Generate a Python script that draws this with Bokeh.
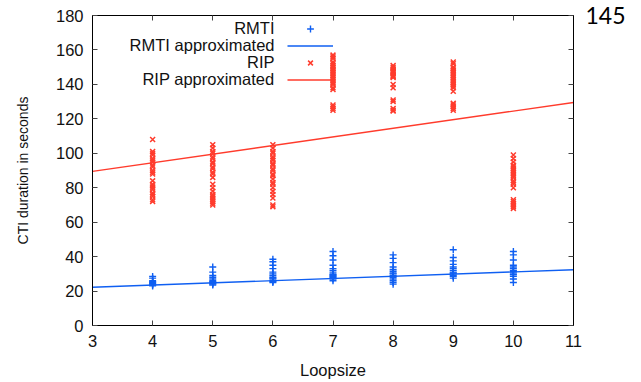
from bokeh.plotting import figure
from bokeh.models import Range1d, LinearAxis, Legend, LegendItem, Label
from bokeh.embed import file_html
from bokeh.resources import INLINE

# ---------------- data ----------------
loopsizes = [4, 5, 6, 7, 8, 9, 10]

rmti_4 = [28.5, 27.5, 26, 25.5, 25, 24.5, 24, 23.5, 23]
rmti_5 = [34, 31, 29, 28, 27, 26, 25.5, 25, 24.5, 24, 23.5]
rmti_6 = [38.5, 37, 35, 33, 31, 30, 29, 28, 27.5, 27, 26, 25.5, 25]
rmti_7 = [43, 40.5, 38, 35, 33, 32, 31, 30, 29.5, 29, 28.5, 28, 27.5, 27, 26]
rmti_8 = [41, 39, 36.5, 34, 32.5, 31.5, 30.5, 30, 29, 28.5, 28, 27, 26, 25, 24]
rmti_9 = [44, 39.5, 37.5, 35.5, 34, 33, 32, 31, 30.5, 30, 29, 28.5, 27.5]
rmti_10 = [43, 41, 38, 35, 34, 33, 32, 31.5, 31, 30, 29.5, 28.5, 27, 25]

rip_4 = [108, 101, 100, 99, 97, 96, 95, 93, 92, 90, 89, 88, 84, 82, 81, 80, 79, 77, 76, 75, 73, 72]
rip_5 = [105, 103, 101, 100, 98, 97, 95, 94, 92, 91, 89, 88, 86, 82, 80, 78, 76, 75, 74, 73, 72, 71, 70]
rip_6 = [105, 103, 101, 100, 98, 97, 96, 94, 93, 91, 90, 88, 87, 85, 83, 82, 80, 78, 76, 74, 70, 69]
rip_7 = [157, 156, 155, 153, 152, 151, 150, 149, 148, 147, 146, 145, 144, 143, 142, 141, 140, 138,
         137, 128, 127, 126, 125]
rip_8 = [151, 150, 149, 148, 147.5, 147, 146, 145, 144.5, 144, 140, 138, 131, 130, 126, 125, 124.5]
rip_9 = [153, 152, 150, 149, 148, 147, 146, 145, 144, 143, 142, 141, 140, 139, 138, 136, 129, 128,
         127, 126, 125]
rip_10 = [99, 97, 95, 93, 92, 91, 90, 89, 88, 87, 86, 84, 83, 82, 80, 73, 72, 71, 70, 69, 68]

approx_x = [3, 11]
rmti_approx = [22.2, 32.4]
rip_approx = [89.5, 129.5]

x_ticks = [3, 4, 5, 6, 7, 8, 9, 10, 11]
y_ticks = [0, 20, 40, 60, 80, 100, 120, 140, 160, 180]

legend_labels = ["RMTI", "RMTI approximated", "RIP", "RIP approximated"]
x_label = "Loopsize"
y_label = "CTI duration in seconds"
page_number = "145"

rmti_groups = [rmti_4, rmti_5, rmti_6, rmti_7, rmti_8, rmti_9, rmti_10]
rip_groups = [rip_4, rip_5, rip_6, rip_7, rip_8, rip_9, rip_10]


def flatten(groups):
    xs, ys = [], []
    for x, vals in zip(loopsizes, groups):
        xs += [x] * len(vals)
        ys += list(vals)
    return xs, ys


rmti_x, rmti_y = flatten(rmti_groups)
rip_x, rip_y = flatten(rip_groups)

# ---------------- style ----------------
BLUE = "#0f5ff2"
RED = "#ff3b2c"
FONT = "Liberation Sans"
FS = "16.5px"
TXT = "#111111"

p = figure(width=641, height=382, output_backend="svg", toolbar_location=None,
           x_range=Range1d(3, 11), y_range=Range1d(0, 180),
           min_border_left=92, min_border_right=68, min_border_top=15, min_border_bottom=57,
           x_axis_label=x_label, y_axis_label=y_label)
p.xgrid.visible = False
p.ygrid.visible = False
p.outline_line_color = "black"
p.outline_line_width = 1
p.background_fill_color = "white"
p.border_fill_color = "white"

p.xaxis.ticker = x_ticks
p.yaxis.ticker = y_ticks


def style_axis(ax, show_labels=True):
    ax.axis_line_color = "black"
    ax.major_tick_in = 5
    ax.major_tick_out = 0
    ax.minor_tick_in = 0
    ax.minor_tick_out = 0
    ax.major_tick_line_color = "#444444"
    ax.major_label_text_font = FONT
    ax.major_label_text_font_size = FS if show_labels else "0px"
    ax.major_label_text_color = TXT
    if not show_labels:
        ax.major_label_text_alpha = 0
        ax.major_label_standoff = 0
    else:
        ax.major_label_standoff = 9
    ax.axis_label_text_font = FONT
    ax.axis_label_text_font_size = FS
    ax.axis_label_text_font_style = "normal"
    ax.axis_label_text_color = TXT


style_axis(p.xaxis[0])
style_axis(p.yaxis[0])
p.xaxis[0].axis_label_standoff = 11
p.yaxis[0].axis_label_standoff = 22
p.yaxis[0].axis_label_text_font_size = "14px"

top_ax = LinearAxis(ticker=x_ticks)
right_ax = LinearAxis(ticker=y_ticks)
style_axis(top_ax, False)
style_axis(right_ax, False)
# page number printed at the top right, outside the frame
right_ax.axis_label = page_number
right_ax.axis_label_orientation = "horizontal"
right_ax.axis_label_align = "end"
right_ax.axis_label_standoff = 12
right_ax.axis_label_text_font = "Lato"
right_ax.axis_label_text_font_size = "23px"
right_ax.axis_label_text_color = "#000000"
right_ax.axis_label_text_baseline = "top"
p.add_layout(top_ax, "above")
p.add_layout(right_ax, "right")

# ---------------- glyphs ----------------
rip_line = p.line(approx_x, rip_approx, line_color=RED, line_width=1.4)
rmti_line = p.line(approx_x, rmti_approx, line_color=BLUE, line_width=1.4)
rip_pts = p.scatter(rip_x, rip_y, marker="x", size=7, line_color=RED, line_width=1.5)
rmti_pts = p.scatter(rmti_x, rmti_y, marker="cross", size=7, line_color=BLUE, line_width=1.4)

# ---------------- legend (gnuplot style: text right-aligned, sample on the right) ----------------
row_h = 17.3
legend = Legend(items=[LegendItem(label=" ", renderers=[r]) for r in
                       (rmti_pts, rmti_line, rip_pts, rip_line)],
                location=(195, 237.5), orientation="vertical",
                glyph_width=46, glyph_height=int(round(row_h)), label_height=int(round(row_h)),
                label_width=1, label_standoff=0, spacing=0, padding=0, margin=0,
                label_text_font_size="1px", border_line_color=None,
                background_fill_alpha=0)
p.add_layout(legend, "center")

for i, txt in enumerate(legend_labels):
    p.add_layout(Label(x=182, y=298.0 - i * row_h, x_units="screen", y_units="screen",
                       text=txt, text_align="right", text_baseline="middle",
                       text_font=FONT, text_font_size=FS, text_color=TXT))

open("out.html", "w").write(file_html(p, INLINE))
